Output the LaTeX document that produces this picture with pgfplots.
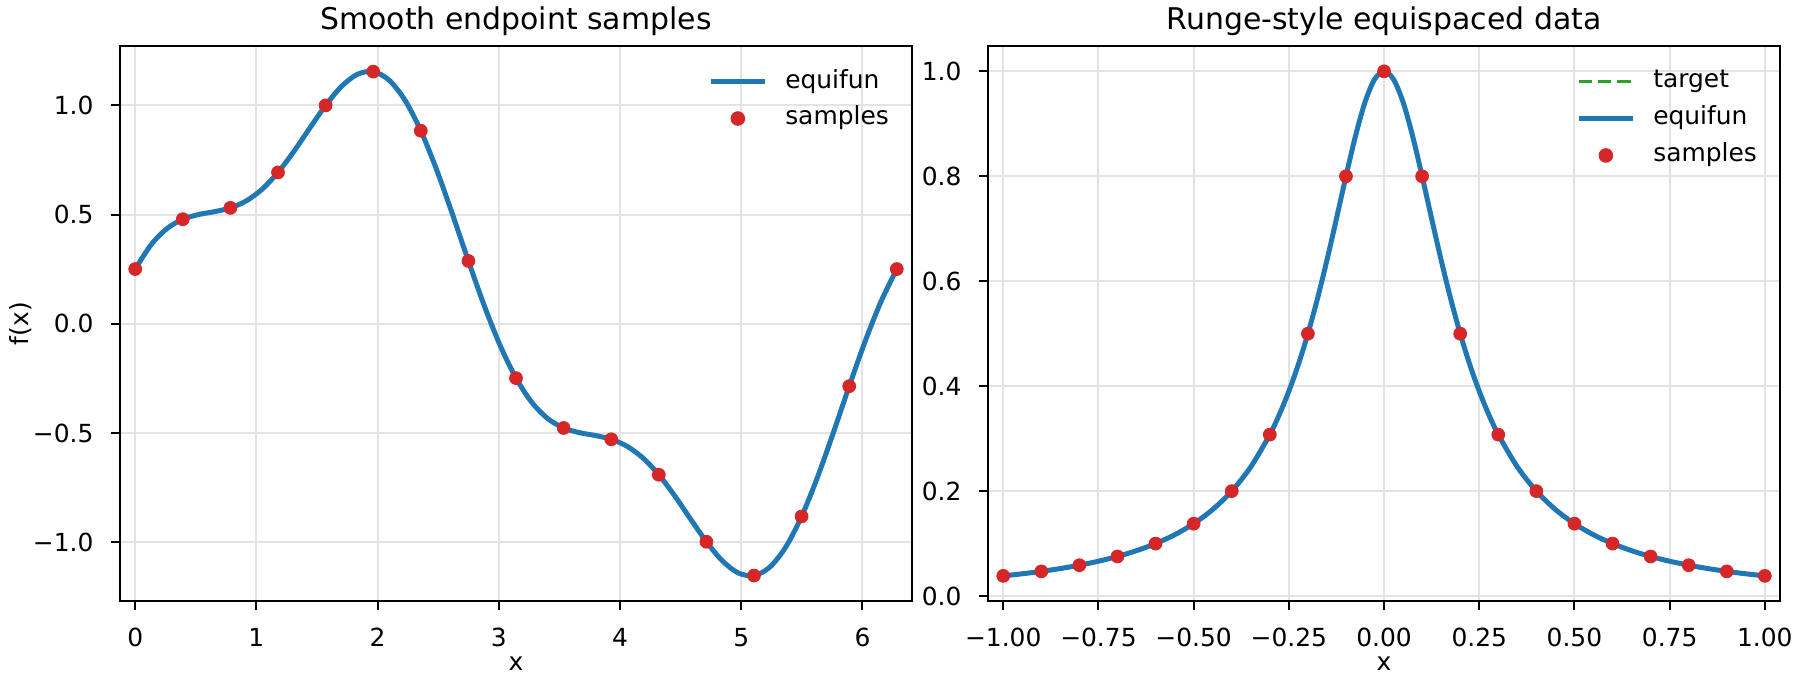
\documentclass[border=0pt]{standalone}
\usepackage{fontspec}
\setmainfont{DejaVu Sans}
\usepackage{pgfplots}
\pgfplotsset{compat=1.18}
\usepackage{pgfplotstable}
\definecolor{tabblue}{HTML}{1F77B4}
\definecolor{tabred}{HTML}{D62728}
\definecolor{tabgreen}{HTML}{2CA02C}
\definecolor{gridgray}{HTML}{E3E3E3}

\pgfplotstableread{
x y
0.0000 0.2500
0.1309 0.3615
0.2618 0.4356
0.3927 0.4784
0.5236 0.5000
0.6545 0.5131
0.7854 0.5303
0.9163 0.5624
1.0472 0.6160
1.1781 0.6929
1.3090 0.7892
1.4399 0.8958
1.5708 1.0000
1.7017 1.0871
1.8326 1.1427
1.9635 1.1549
2.0944 1.1160
2.2253 1.0243
2.3562 0.8839
2.4871 0.7044
2.6180 0.5000
2.7489 0.2870
2.8798 0.0820
3.0107 -0.1004
3.1416 -0.2500
3.2725 -0.3615
3.4034 -0.4356
3.5343 -0.4784
3.6652 -0.5000
3.7961 -0.5131
3.9270 -0.5303
4.0579 -0.5624
4.1888 -0.6160
4.3197 -0.6929
4.4506 -0.7892
4.5815 -0.8958
4.7124 -1.0000
4.8433 -1.0871
4.9742 -1.1427
5.1051 -1.1549
5.2360 -1.1160
5.3669 -1.0243
5.4978 -0.8839
5.6287 -0.7044
5.7596 -0.5000
5.8905 -0.2870
6.0214 -0.0820
6.1523 0.1004
6.2832 0.2500
}\leftcurve

\pgfplotstableread{
x y
0.0000 0.2500
0.3927 0.4784
0.7854 0.5303
1.1781 0.6929
1.5708 1.0000
1.9635 1.1549
2.3562 0.8839
2.7489 0.2870
3.1416 -0.2500
3.5343 -0.4784
3.9270 -0.5303
4.3197 -0.6929
4.7124 -1.0000
5.1051 -1.1549
5.4978 -0.8839
5.8905 -0.2870
6.2832 0.2500
}\leftsamples

\pgfplotstableread{
x y
-1.000 0.03846
-0.950 0.04244
-0.900 0.04706
-0.850 0.05246
-0.800 0.05882
-0.750 0.06639
-0.700 0.07547
-0.650 0.08649
-0.600 0.10000
-0.550 0.11679
-0.500 0.13793
-0.450 0.16495
-0.400 0.20000
-0.350 0.24615
-0.300 0.30769
-0.275 0.34595
-0.250 0.39024
-0.225 0.44138
-0.200 0.50000
-0.175 0.56637
-0.150 0.64000
-0.125 0.71910
-0.100 0.80000
-0.075 0.87671
-0.050 0.94118
-0.025 0.98462
0.000 1.00000
0.025 0.98462
0.050 0.94118
0.075 0.87671
0.100 0.80000
0.125 0.71910
0.150 0.64000
0.175 0.56637
0.200 0.50000
0.225 0.44138
0.250 0.39024
0.275 0.34595
0.300 0.30769
0.350 0.24615
0.400 0.20000
0.450 0.16495
0.500 0.13793
0.550 0.11679
0.600 0.10000
0.650 0.08649
0.700 0.07547
0.750 0.06639
0.800 0.05882
0.850 0.05246
0.900 0.04706
0.950 0.04244
1.000 0.03846
}\rungecurve

\pgfplotstableread{
x y
-1.0 0.03846
-0.9 0.04706
-0.8 0.05882
-0.7 0.07547
-0.6 0.10000
-0.5 0.13793
-0.4 0.20000
-0.3 0.30769
-0.2 0.50000
-0.1 0.80000
0.0 1.00000
0.1 0.80000
0.2 0.50000
0.3 0.30769
0.4 0.20000
0.5 0.13793
0.6 0.10000
0.7 0.07547
0.8 0.05882
0.9 0.04706
1.0 0.03846
}\rungesamples

\pgfplotsset{
  mpl/.style={
    scale only axis, width=381.6pt, height=267.4pt,
    axis line style={line width=0.96pt, black},
    tick style={line width=0.96pt, black},
    major tick length=4.2pt,
    tick align=outside,
    xtick pos=left, ytick pos=left,
    grid=major,
    grid style={line width=0.96pt, gridgray},
    tick label style={font=\fontsize{12}{14}\selectfont},
    xticklabel style={anchor=base, inner sep=0pt, yshift=-17.6pt},
    yticklabel style={anchor=base east, inner sep=0pt, xshift=-8.4pt, yshift=-4.5pt},
    every axis title/.style={at={(axis description cs:0.5,1)}, anchor=south, inner sep=0pt, yshift=5pt, font=\fontsize{14.4}{17}\selectfont},
    every axis x label/.style={at={(axis description cs:0.5,0)}, anchor=base, inner sep=0pt, yshift=-33.2pt, font=\fontsize{12}{14}\selectfont},
    every axis y label/.style={at={(axis description cs:-0.125,0.5)}, rotate=90, anchor=center, inner sep=0pt, font=\fontsize{12}{14}\selectfont},
    legend cell align=left,
    legend style={draw=none, fill=none, at={(axis description cs:1,1)}, anchor=north east,
      xshift=-11pt, yshift=-10.9pt, inner sep=0pt, row sep=5.8pt, column sep=8.5pt,
      font=\fontsize{12}{14}\selectfont,
      nodes={inner sep=0pt, text height=9.1pt, text depth=2.9pt}},
  },
  lineimg/.style={legend image code/.code={\draw[##1] (0pt,0pt) -- (26.3pt,0pt);}},
  dotimg/.style={legend image code/.code={\path (0pt,0pt) (26.3pt,0pt); \fill[tabred] (13.15pt,0pt) circle (3.3pt);}},
  dots/.style={tabred, only marks, mark=*, mark size=3.1pt, mark options={draw=tabred, fill=tabred, line width=0.4pt}},
}

\begin{document}
\begin{tikzpicture}
\begin{axis}[mpl,
  at={(0pt,0pt)}, anchor=south west,
  xmin=-0.1257, xmax=6.4089, ymin=-1.272, ymax=1.272,
  xtick={0,1,2,3,4,5,6},
  xticklabels={0,1,2,3,4,5,6},
  ytick={-1,-0.5,0,0.5,1},
  yticklabels={−1.0,−0.5,0.0,0.5,1.0},
  title={Smooth endpoint samples},
  xlabel={x}, ylabel={f(x)},
]
\addplot[tabblue, line width=2.4pt, smooth, lineimg] table[x=x,y=y] {\leftcurve};
\addlegendentry{equifun}
\addplot[dots, dotimg] table[x=x,y=y] {\leftsamples};
\addlegendentry{samples}
\end{axis}

\begin{axis}[mpl,
  at={(418.2pt,0pt)}, anchor=south west,
  xmin=-1.04, xmax=1.04, ymin=-0.0096, ymax=1.0481,
  xtick={-1,-0.75,-0.5,-0.25,0,0.25,0.5,0.75,1},
  xticklabels={−1.00,−0.75,−0.50,−0.25,0.00,0.25,0.50,0.75,1.00},
  ytick={0,0.2,0.4,0.6,0.8,1},
  yticklabels={0.0,0.2,0.4,0.6,0.8,1.0},
  title={Runge-style equispaced data},
  xlabel={x},
]
\addplot[tabgreen, line width=1.8pt, dash pattern=on 6.5pt off 2.8pt, smooth, lineimg] table[x=x,y=y] {\rungecurve};
\addlegendentry{target}
\addplot[tabblue, line width=2.4pt, smooth, lineimg] table[x=x,y=y] {\rungecurve};
\addlegendentry{equifun}
\addplot[dots, dotimg] table[x=x,y=y] {\rungesamples};
\addlegendentry{samples}
\end{axis}
\pgfresetboundingbox
\path[use as bounding box] (-57.8pt,-40pt) rectangle (809.4pt,289.6pt);
\end{tikzpicture}
\end{document}
